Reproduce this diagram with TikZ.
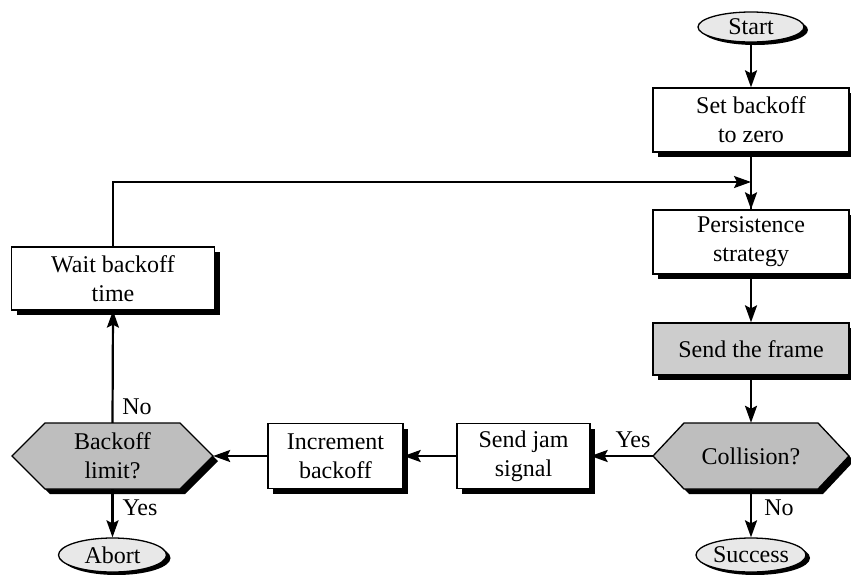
\documentclass[tikz,border=0pt]{standalone}
\usepackage{fontspec}
\setmainfont{Liberation Serif}
\usetikzlibrary{arrows.meta,shadows,calc,shapes.geometric}
\newcommand\dgfont{\fontsize{24}{29}\selectfont}
\definecolor{hexgray}{RGB}{190,190,190}
\definecolor{boxgray}{RGB}{205,205,205}
\definecolor{ovalgray}{RGB}{232,232,232}
% cx, cy, half width, half height, depth
\newcommand\hexshape[5]{%
  \fill[black,xshift=5pt,yshift=-5pt] (#1-#3,#2) -- (#1-#3+#5,#2-#4) -- (#1+#3-#5,#2-#4) -- (#1+#3,#2) -- (#1+#3-#5,#2+#4) -- (#1-#3+#5,#2+#4) -- cycle;
  \filldraw[fill=hexgray,line width=1.3pt] (#1-#3,#2) -- (#1-#3+#5,#2-#4) -- (#1+#3-#5,#2-#4) -- (#1+#3,#2) -- (#1+#3-#5,#2+#4) -- (#1-#3+#5,#2+#4) -- cycle;
}
\begin{document}
\begin{tikzpicture}[x=1pt,y=-1pt,
  shad/.style={drop shadow={shadow xshift=5pt,shadow yshift=-5pt,opacity=1,fill=black}},
  box/.style={draw,line width=1.3pt,fill=white,align=center,font=\dgfont,inner sep=0pt,shad},
  oval/.style={ellipse,draw,line width=1.3pt,fill=ovalgray,font=\dgfont,inner sep=0pt,
    drop shadow={shadow xshift=4pt,shadow yshift=-3pt,opacity=1,fill=black}},
  hexa/.style={align=center,font=\dgfont,inner sep=0pt},
  arr/.style={line width=2.2pt,-{Stealth[length=17pt,width=12pt,inset=3pt]}},
  lbl/.style={font=\dgfont,inner sep=0pt}
]
\useasboundingbox (0,0) rectangle (851,574);
\node[oval,minimum width=106,minimum height=30] (start) at (751,27) {Start};
\node[box,minimum width=196,minimum height=64] (setb) at (751,120) {Set backoff\\to zero};
\node[box,minimum width=196,minimum height=64] (pers) at (751,242) {Persistence\\strategy};
\node[box,fill=boxgray,minimum width=196,minimum height=52] (frame) at (751,349) {Send the frame};
\hexshape{751}{456}{98}{33}{31}
\node[hexa,minimum width=196,minimum height=66] (coll) at (751,456) {Collision?};
\node[oval,minimum width=110,minimum height=34] (succ) at (751,555) {Success};
\node[box,minimum width=133,minimum height=65] (jam) at (523.5,456) {Send jam\\signal};
\node[box,minimum width=135,minimum height=65] (inc) at (335.5,456) {Increment\\backoff};
\hexshape{112.5}{456}{100.5}{33}{33}
\node[hexa,minimum width=201,minimum height=66] (bl) at (112.5,456) {Backoff\\limit?};
\node[oval,minimum width=108,minimum height=34] (abort) at (112.5,555) {Abort};
\node[box,minimum width=203,minimum height=63] (wait) at (113,278.5) {Wait backoff\\time};
\coordinate (j) at (751,182);

\draw[arr] (start) -- (setb);
\draw[line width=2.2pt] (setb.south) -- (pers.north);
\draw[arr] (pers) -- (frame);
\draw[arr] (frame) -- (coll);
\draw[arr] (coll) -- (succ);
\draw[arr] (coll.west) -- (jam.east);
\draw[arr] (jam) -- (inc);
\draw[arr] (inc.west) -- (bl.east);
\draw[arr] (bl.north) -- (wait.south);
\draw[arr] (bl.south) -- (abort.north);
\draw[arr] (wait.north) |- (j);
\draw[arr] (j) -- (pers.north);

\node[lbl] (no1) at (137,407) {No};
\node[lbl] (yes1) at (140,508) {Yes};
\node[lbl] (yes2) at (633,440) {Yes};
\node[lbl] (no2) at (779,508) {No};
\end{tikzpicture}
\end{document}
